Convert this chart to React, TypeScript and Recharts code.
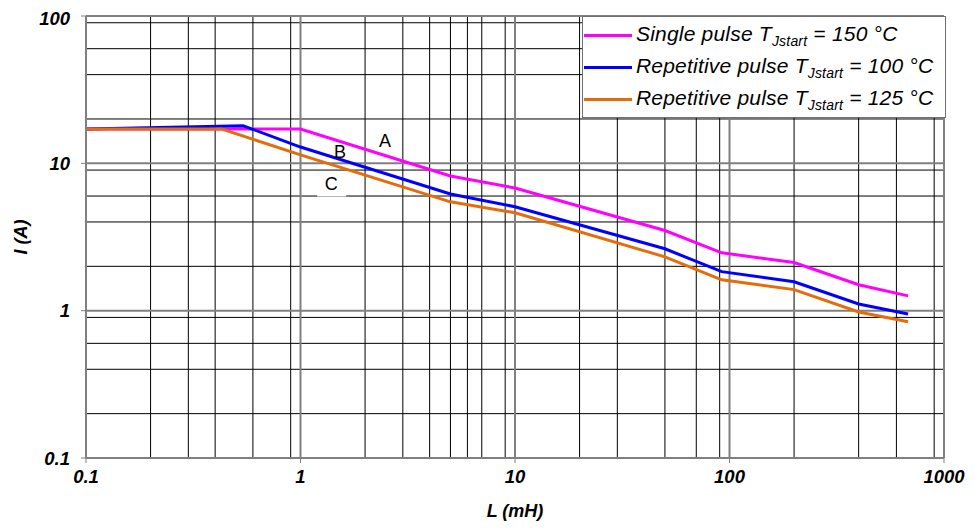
import { LineChart, Line, XAxis, YAxis, CartesianGrid, Legend, ReferenceDot, Label } from 'recharts';

const FONT = '"Liberation Sans", Arial, sans-serif';

// L (mH) / I (A)
const singleL = [0.1, 1, 5, 10, 50, 92, 200, 400, 680];
const singleI = [17.1, 17.1, 8.2, 6.8, 3.5, 2.47, 2.12, 1.5, 1.26];
const rep100L = [0.1, 0.54, 1, 5, 10, 50, 92, 200, 400, 680];
const rep100I = [17.1, 18, 12.9, 6.2, 5.07, 2.63, 1.84, 1.57, 1.11, 0.95];
const rep125L = [0.1, 0.43, 1, 5, 10, 50, 92, 200, 400, 680];
const rep125I = [17.1, 17.1, 11.4, 5.48, 4.62, 2.32, 1.62, 1.39, 0.98, 0.84];

const xTicks = [0.1, 1, 10, 100, 1000];
const yTicks = [0.1, 1, 10, 100];
const minorSteps = [2, 3, 4, 5, 6, 7, 8, 9];

const seriesNames = ['Single pulse', 'Repetitive pulse', 'Repetitive pulse'];
const seriesTemps = ['150', '100', '125'];
const seriesColors = ['#FF00FF', '#0000FF', '#E46C0A'];

// curve labels: text, L, I
const curveLabels: [string, number, number][] = [
  ['A', 2.48, 14.1],
  ['B', 1.53, 11.9],
  ['C', 1.39, 7.19],
];

const toPoints = (ls: number[], is: number[]) => ls.map((l, k) => ({ l, i: is[k] }));
const minorOf = (decades: number[]) =>
  decades.slice(0, -1).flatMap((d) => minorSteps.map((m) => +(d * m).toPrecision(3)));

const seriesData = [toPoints(singleL, singleI), toPoints(rep100L, rep100I), toPoints(rep125L, rep125I)];

function LegendBox() {
  return (
    <div
      style={{
        width: 364,
        height: 102,
        boxSizing: 'border-box',
        border: '1px solid #707070',
        background: '#fff',
        fontFamily: FONT,
        fontStyle: 'italic',
        fontSize: 21,
        letterSpacing: 0.2,
        color: '#000',
        paddingTop: 2,
      }}
    >
      {seriesNames.map((name, k) => (
        <div key={k} style={{ display: 'flex', alignItems: 'center', height: 32, whiteSpace: 'nowrap' }}>
          <div style={{ width: 48, height: 3, background: seriesColors[k], margin: '0 4px 0 1px' }} />
          <span>
            {name} T<sub style={{ fontSize: 14, verticalAlign: '-0.35em' }}>Jstart</sub> = {seriesTemps[k]} °C
          </span>
        </div>
      ))}
    </div>
  );
}

function curveLabel(text: string) {
  return (props: any) => {
    const { x, y } = props.viewBox;
    return (
      <g>
        {text === 'C' && <rect x={x - 14} y={y - 12} width={29} height={24} fill="#fff" />}
        <text x={x} y={y} textAnchor="middle" dominantBaseline="central" fontFamily={FONT} fontSize={18} fill="#000">
          {text}
        </text>
      </g>
    );
  };
}

export default function App() {
  const tickStyle = { fontFamily: FONT, fontSize: 18.5, fontWeight: 'bold', fontStyle: 'italic', fill: '#000' };
  return (
    <LineChart width={958} height={513} margin={{ top: 8, right: 22, left: 0, bottom: 0 }}>
      <CartesianGrid
        horizontal
        vertical
        horizontalValues={minorOf(yTicks)}
        verticalValues={minorOf(xTicks)}
        stroke="#000"
        strokeWidth={1}
      />
      <CartesianGrid
        horizontal
        vertical
        horizontalValues={yTicks}
        verticalValues={xTicks}
        stroke="#808080"
        strokeWidth={2}
      />
      <XAxis
        dataKey="l"
        type="number"
        scale="log"
        domain={[0.1, 1000]}
        ticks={xTicks}
        allowDataOverflow
        height={63}
        tickSize={5}
        tickMargin={7}
        axisLine={{ stroke: '#808080', strokeWidth: 2 }}
        tickLine={{ stroke: '#808080' }}
        tick={tickStyle}
      >
        <Label
          content={(p: any) => (
            <text
              x={p.viewBox.x + p.viewBox.width / 2}
              y={p.viewBox.y + 53}
              textAnchor="middle"
              dominantBaseline="central"
              fontFamily={FONT}
              fontSize={18}
              fontWeight="bold"
              fontStyle="italic"
            >
              L (mH)
            </text>
          )}
        />
      </XAxis>
      <YAxis
        dataKey="i"
        type="number"
        scale="log"
        domain={[0.1, 100]}
        ticks={yTicks}
        allowDataOverflow
        width={78}
        tickSize={5}
        tickMargin={11}
        axisLine={{ stroke: '#808080', strokeWidth: 2 }}
        tickLine={{ stroke: '#808080' }}
        tick={tickStyle}
      >
        <Label
          content={(p: any) => {
            const cx = p.viewBox.x + 13;
            const cy = p.viewBox.y + p.viewBox.height / 2;
            return (
              <text
                x={cx}
                y={cy}
                transform={`rotate(-90, ${cx}, ${cy})`}
                textAnchor="middle"
                dominantBaseline="central"
                fontFamily={FONT}
                fontSize={18}
                fontWeight="bold"
                fontStyle="italic"
              >
                I (A)
              </text>
            );
          }}
        />
      </YAxis>
      {seriesData.map((d, k) => (
        <Line
          key={k}
          data={d}
          dataKey="i"
          type="linear"
          stroke={seriesColors[k]}
          strokeWidth={3}
          dot={false}
          activeDot={false}
          isAnimationActive={false}
        />
      ))}
      {curveLabels.map(([t, l, i]) => (
        <ReferenceDot key={t} x={l} y={i} r={0} fill="none" stroke="none" label={curveLabel(t)} />
      ))}
      <Legend
        layout="vertical"
        align="center"
        verticalAlign="middle"
        content={() => <LegendBox />}
        wrapperStyle={{ top: 8, left: 574, width: 364, height: 102 }}
      />
    </LineChart>
  );
}
